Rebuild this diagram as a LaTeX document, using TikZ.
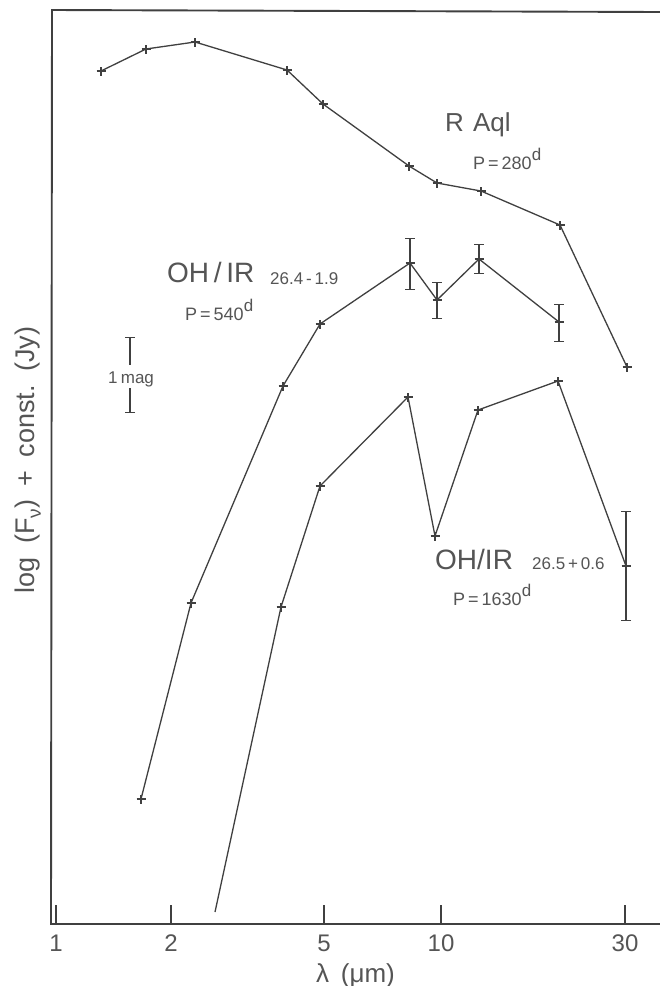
\documentclass[tikz,border=0pt]{standalone}
\usepackage{fontspec}
\setmainfont{Liberation Sans}
\usetikzlibrary{arrows.meta}
\definecolor{ink}{HTML}{404040}
\definecolor{txt}{HTML}{555555}
\newcommand\fs[1]{\fontsize{#1}{#1}\selectfont}
\newcommand\supd{\raisebox{0.5em}{\fontsize{17}{17}\selectfont d}}
\newcommand\pmark[1]{\draw[mk] ([xshift=-4.5pt]#1) -- ([xshift=4.5pt]#1) ([yshift=-4.5pt]#1) -- ([yshift=4.5pt]#1);}
\begin{document}
\begin{tikzpicture}[x=1pt,y=-1pt,
  curve/.style={draw=ink,line width=1.3pt,line join=round},
  mk/.style={draw=ink,line width=1.1pt},
  axis/.style={draw=ink,line width=1.9pt,line join=miter},
  tick/.style={draw=ink,line width=1.3pt},
  ebar/.style={draw=ink,line width=1.3pt,{Bar[width=10pt,line width=1.3pt]}-{Bar[width=10pt,line width=1.3pt]}},
  ebarT/.style={draw=ink,line width=1.2pt,{Bar[width=10pt,line width=1.2pt]}-},
  ebarB/.style={draw=ink,line width=1.2pt,-{Bar[width=10pt,line width=1.2pt]}},
  lbl/.style={text=txt,inner sep=0pt},
]
\useasboundingbox (0,0) rectangle (660,986);
\fill[white] (0,0) rectangle (660,986);

% axes
\coordinate (tr) at (660,12);
\coordinate (tl) at (52,10);
\coordinate (bl) at (51,924);
\coordinate (br) at (660,924);
\draw[axis] (tr) -- (tl) -- (bl) -- (br);

% ticks and tick labels
\foreach \n/\x/\t in {k1/56/1,k2/171/2,k5/324/5,k10/441/10,k30/625/30}{
  \coordinate (\n a) at (\x,924);
  \coordinate (\n b) at (\x,905);
  \draw[tick] (\n a) -- (\n b);
  \node[lbl,font=\fs{24},anchor=base] (\n l) at (\x,951) {\t};
}
\node[lbl,font=\fs{26},anchor=base west] (xlab) at (316,982) {λ\hspace{0.45em}(μm)};
\node[lbl,font=\fs{27},rotate=90] (ylab) at (28,460)
  {log\hspace{0.5em}(F\raisebox{-0.22em}{\fs{19}ν})\hspace{0.5em}+\hspace{0.5em}const.\hspace{0.5em}(Jy)};

% R Aql
\foreach \n/\x/\y in {a1/101/71,a2/146/49,a3/195/42,a4/287/70,a5/323/104,a6/409/166,a7/437/183,a8/481/191,a9/560/225,a10/627/367}{
  \coordinate (\n) at (\x,\y);
}
\draw[curve] (a1) -- (a2) -- (a3) -- (a4) -- (a5) -- (a6) -- (a7) -- (a8) -- (a9) -- (a10);
\foreach \n in {a1,a2,a3,a4,a5,a6,a7,a8,a9,a10}{\pmark{\n}}

% OH/IR 26.4-1.9
\foreach \n/\x/\y in {b1/141/799,b2/191/603,b3/283/386,b4/320/324,b5/410/263,b6/437/300,b7/479/259,b8/559/322}{
  \coordinate (\n) at (\x,\y);
}
\draw[curve] (b1) -- (b2) -- (b3) -- (b4) -- (b5) -- (b6) -- (b7) -- (b8);
\foreach \n in {b1,b2,b3,b4,b5,b6,b7,b8}{\pmark{\n}}
\coordinate (b5t) at (410,238); \coordinate (b5b) at (410,290);
\coordinate (b6t) at (437,282); \coordinate (b6b) at (437,319);
\coordinate (b7t) at (479,244); \coordinate (b7b) at (479,274);
\coordinate (b8t) at (559,304); \coordinate (b8b) at (559,342);
\draw[ebar] (b5t) -- (b5b);
\draw[ebar] (b6t) -- (b6b);
\draw[ebar] (b7t) -- (b7b);
\draw[ebar] (b8t) -- (b8b);

% OH/IR 26.5+0.6
\foreach \n/\x/\y in {c0/215/912,c1/281/607,c2/320/486,c3/408/397,c4/435/536,c5/478/410,c6/558/381,c7/626/566}{
  \coordinate (\n) at (\x,\y);
}
\draw[curve] (c0) -- (c1) -- (c2) -- (c3) -- (c4) -- (c5) -- (c6) -- (c7);
\foreach \n in {c1,c2,c3,c4,c5,c6,c7}{\pmark{\n}}
\coordinate (c7t) at (626,511); \coordinate (c7b) at (626,621);
\draw[ebar] (c7t) -- (c7b);

% 1 mag scale bar
\coordinate (m1) at (130,337); \coordinate (m2) at (130,365);
\coordinate (m3) at (130,388); \coordinate (m4) at (130,413);
\draw[ebarT] (m1) -- (m2);
\draw[ebarB] (m3) -- (m4);
\node[lbl,font=\fs{17},anchor=base] (mag) at (131,383) {1\hspace{0.2em}mag};

% labels
\node[lbl,font=\fs{26},anchor=base west] (raql) at (445,131) {R\hspace{0.35em}Aql};
\node[lbl,font=\fs{18},anchor=base west] (praql) at (473,169) {P\,=\,280\supd};

\node[lbl,font=\fs{28},anchor=base west] (oh1) at (167,282) {OH\,/\,IR};
\node[lbl,font=\fs{17},anchor=base west] (oh1n) at (270,284) {26.4\,-\,1.9};
\node[lbl,font=\fs{18},anchor=base west] (oh1p) at (185,320) {P\,=\,540\supd};

\node[lbl,font=\fs{28},anchor=base west] (oh2) at (435,569) {OH/IR};
\node[lbl,font=\fs{17},anchor=base west] (oh2n) at (532,569) {26.5\,+\,0.6};
\node[lbl,font=\fs{18},anchor=base west] (oh2p) at (453,605) {P\,=\,1630\supd};
\end{tikzpicture}
\end{document}
